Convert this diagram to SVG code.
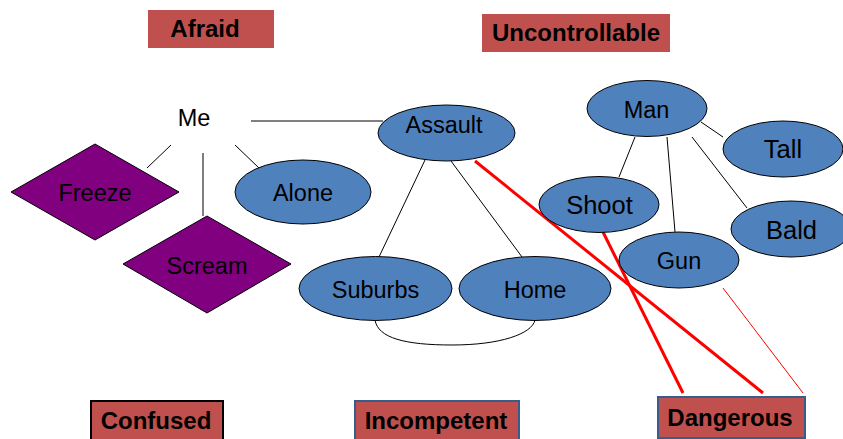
<svg xmlns="http://www.w3.org/2000/svg" width="843" height="439" viewBox="0 0 843 439">
<style>
.ell{fill:#4F81BD;stroke:#000;stroke-width:1}
.dia{fill:#800080;stroke:#000;stroke-width:1}
.box{fill:#C0504D}
.t{font-family:"Liberation Sans",Arial,sans-serif;font-size:23.5px;fill:#000;text-anchor:middle}
.b{font-family:"Liberation Sans",Arial,sans-serif;font-size:24px;font-weight:bold;fill:#000;text-anchor:middle}
.ln{stroke:#000;stroke-width:1;fill:none}
.red{stroke:#FF0000;stroke-width:3;fill:none}
</style>
<rect width="843" height="439" fill="#fff"/>
<g id="connectors">
<line class="ln" x1="251" y1="121" x2="383" y2="121"/>
<line class="ln" x1="171" y1="145" x2="147" y2="168"/>
<line class="ln" x1="203" y1="153" x2="203" y2="216"/>
<line class="ln" x1="235" y1="145" x2="259" y2="168"/>
<line class="ln" x1="425" y1="160" x2="379" y2="257"/>
<line class="ln" x1="451" y1="161" x2="522" y2="257"/>
<path class="ln" d="M375,320 C378,338 405,345 452,345 C500,345 532,334 535,320"/>
<line class="ln" x1="635" y1="137" x2="619" y2="177"/>
<line class="ln" x1="667" y1="137" x2="675" y2="232"/>
<line class="ln" x1="701" y1="122" x2="723" y2="137"/>
<line class="ln" x1="692" y1="137" x2="747" y2="208"/>
<line class="red" x1="475" y1="161" x2="763" y2="393"/>
<line class="red" x1="603" y1="232" x2="683" y2="393"/>
<line x1="723" y1="288" x2="803" y2="393" stroke="#FF0000" stroke-width="1"/>
</g>
<g id="afraid"><rect class="box" x="148" y="10" width="126" height="38"/><text class="b" x="205" y="37">Afraid</text></g>
<g id="uncontrollable"><rect class="box" x="482" y="14" width="188" height="38"/><text class="b" x="576" y="41">Uncontrollable</text></g>
<g id="me"><text class="t" x="194" y="126">Me</text></g>
<g id="freeze"><polygon class="dia" points="11,192 95,144 179,192 95,240"/><text class="t" x="95" y="201">Freeze</text></g>
<g id="scream"><polygon class="dia" points="123,264 207,216 291,264 207,313"/><text class="t" x="207" y="274">Scream</text></g>
<g id="alone"><ellipse class="ell" cx="303" cy="192" rx="68" ry="32"/><text class="t" x="303" y="201">Alone</text></g>
<g id="assault"><ellipse class="ell" cx="446.5" cy="133" rx="68.5" ry="28"/><text class="t" x="444" y="133">Assault</text></g>
<g id="suburbs"><ellipse class="ell" cx="375.5" cy="288.5" rx="76.5" ry="32"/><text class="t" x="375.5" y="298">Suburbs</text></g>
<g id="home"><ellipse class="ell" cx="535" cy="288.5" rx="76" ry="32"/><text class="t" x="535" y="298">Home</text></g>
<g id="man"><ellipse class="ell" cx="647" cy="108.5" rx="60" ry="28"/><text class="t" x="646.5" y="118">Man</text></g>
<g id="tall"><ellipse class="ell" cx="783" cy="149" rx="60" ry="28"/><text class="t" x="783" y="158" style="font-size:25.5px">Tall</text></g>
<g id="shoot"><ellipse class="ell" cx="599" cy="204.5" rx="60" ry="28"/><text class="t" x="599.5" y="214" style="font-size:25.5px">Shoot</text></g>
<g id="bald"><ellipse class="ell" cx="791" cy="229" rx="60" ry="28"/><text class="t" x="791.5" y="239" style="font-size:25.5px">Bald</text></g>
<g id="gun"><ellipse class="ell" cx="679" cy="260" rx="60" ry="28"/><text class="t" x="679" y="269">Gun</text></g>
<g id="confused"><rect class="box" x="91" y="401" width="132" height="42" stroke="#000" stroke-width="2"/><text class="b" x="156" y="429">Confused</text></g>
<g id="incompetent"><rect class="box" x="355" y="401" width="164" height="42" stroke="#385D8A" stroke-width="2"/><text class="b" x="436" y="429">Incompetent</text></g>
<g id="dangerous"><rect class="box" x="658" y="397" width="147" height="41" stroke="#385D8A" stroke-width="2"/><text class="b" x="730" y="426">Dangerous</text></g>
</svg>
